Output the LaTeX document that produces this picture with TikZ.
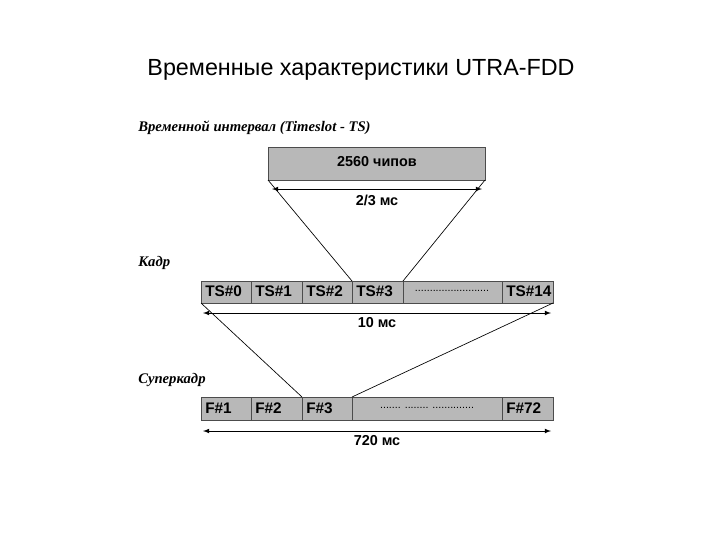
\documentclass[tikz,border=0pt]{standalone}
\usepackage{fontspec}
\setmainfont{Liberation Serif}
\setsansfont{Liberation Sans}
\begin{document}
\begin{tikzpicture}[x=0.75pt,y=-0.75pt,
  cell/.style={draw=black!70,fill=black!28,line width=0.6pt},
  ctext/.style={font=\sffamily\bfseries\fontsize{11.5}{13}\selectfont,anchor=west,inner sep=0pt},
  lab/.style={font=\sffamily\bfseries\fontsize{10.8}{12}\selectfont},
  head/.style={font=\rmfamily\bfseries\itshape\fontsize{11}{13}\selectfont,anchor=west,inner sep=0pt},
  dim/.style={<->,>=latex,line width=0.6pt},
  link/.style={line width=0.5pt}]
\useasboundingbox (0,0) rectangle (720,540);
\fill[white] (0,0) rectangle (720,540);
\node[font=\sffamily\fontsize{17.5}{20}\selectfont] (title) at (361,70) {Временные характеристики UTRA-FDD};
\node[head] (h1) at (138,128) {Временной интервал (Timeslot - TS)};
\node[head] (h2) at (138,263) {Кадр};
\node[head] (h3) at (138,380) {Суперкадр};
% timeslot
\draw[cell] (268,147) rectangle (485,180);
\node[lab] (t) at (377,162) {2560 чипов};
\coordinate (a1) at (272,189); \coordinate (a2) at (482,189);
\draw[dim] (a1) -- (a2);
\node[lab] (l1) at (377,200) {2/3 мс};
% frame
\foreach \a/\b/\t [count=\i] in {201/251/TS\#0,251/302/TS\#1,302/352/TS\#2,352/403/TS\#3,403/502/,502/553/TS\#14}{
  \draw[cell] (\a,281) rectangle (\b,303);
  \node[ctext] (f\i) at (\a+4,291) {\t};
}
\node[font=\sffamily\fontsize{8}{9}\selectfont] (fd) at (452,291) {.........................};
\coordinate (b1) at (203,313); \coordinate (b2) at (551,313);
\draw[dim] (b1) -- (b2);
\node[lab] (l2) at (377,323) {10 мс};
% superframe
\foreach \a/\b/\t [count=\i] in {201/251/F\#1,251/302/F\#2,302/352/F\#3,352/502/,502/553/F\#72}{
  \draw[cell] (\a,397) rectangle (\b,420);
  \node[ctext] (s\i) at (\a+4,408) {\t};
}
\node[font=\sffamily\fontsize{8}{9}\selectfont] (sd) at (427,408) {....... ........ ..............};
\coordinate (c1) at (203,431); \coordinate (c2) at (551,431);
\draw[dim] (c1) -- (c2);
\node[lab] (l3) at (377,441) {720 мс};
% links
\coordinate (p1) at (268,180); \coordinate (p2) at (485,180);
\coordinate (q1) at (352,281); \coordinate (q2) at (403,281);
\draw[link] (p1) -- (q1); \draw[link] (p2) -- (q2);
\coordinate (r1) at (201,303); \coordinate (r2) at (553,303);
\coordinate (u1) at (302,397); \coordinate (u2) at (352,397);
\draw[link] (r1) -- (u1); \draw[link] (r2) -- (u2);
\end{tikzpicture}
\end{document}
